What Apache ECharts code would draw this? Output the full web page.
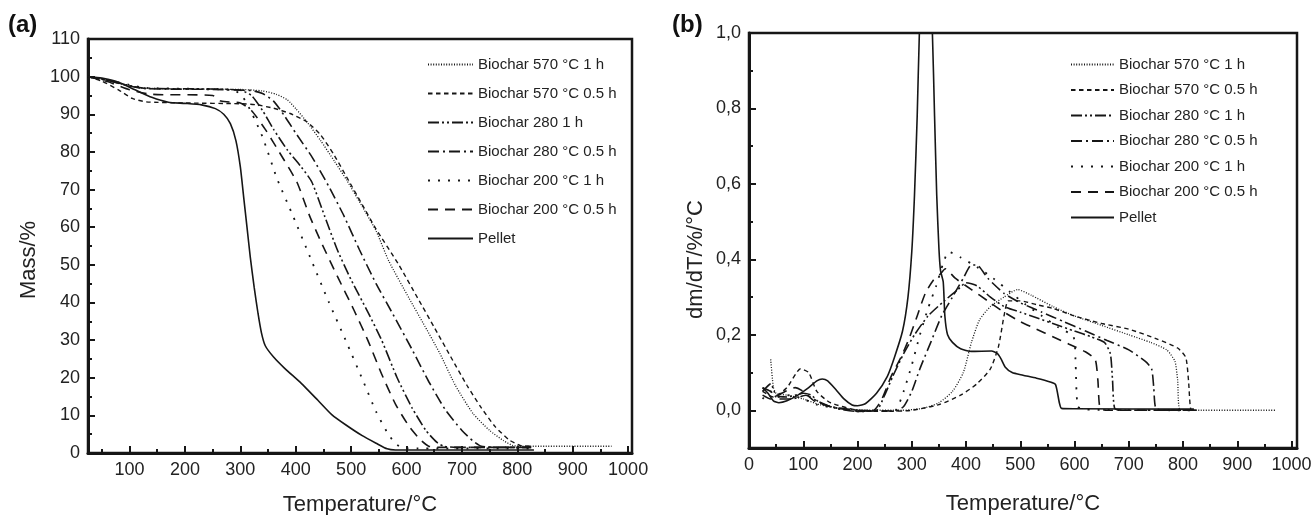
<!DOCTYPE html>
<html>
<head>
<meta charset="utf-8">
<script src="https://cdn.jsdelivr.net/npm/echarts@6/dist/echarts.min.js"></script>
<style>html,body{margin:0;padding:0;background:#fff;}#c{width:1311px;height:515px;}</style>
</head>
<body>
<div id="c"></div>
<script>
// ---------- tick labels ----------
const xTicksA = [100,200,300,400,500,600,700,800,900,1000];
const xMinorA = [50,150,250,350,450,550,650,750,850,950];
const xTicksB = [0,100,200,300,400,500,600,700,800,900,1000];
const xMinorB = [50,150,250,350,450,550,650,750,850,950];
const yTicksB = [0,0.2,0.4,0.6,0.8,1.0];
const yMinorB = [0.1,0.3,0.5,0.7,0.9];

// ---------- legend names ----------
const namesA = ['Biochar 570 °C 1 h','Biochar 570 °C 0.5 h','Biochar 280 1 h','Biochar 280 °C 0.5 h','Biochar 200 °C 1 h','Biochar 200 °C 0.5 h','Pellet'];
const namesB = ['Biochar 570 °C 1 h','Biochar 570 °C 0.5 h','Biochar 280 °C 1 h','Biochar 280 °C 0.5 h','Biochar 200 °C 1 h','Biochar 200 °C 0.5 h','Pellet'];

// ---------- (a) TGA: [temperature, mass %] ----------
const tga570_1h = [[25,100],[60,99],[90,98],[120,97],[200,96.7],[300,96.6],[340,96.2],[365,95.3],[385,93.8],[400,91.5],[420,88],[445,83],[470,77.5],[492,72.5],[520,65.5],[545,59],[568,51],[605,41],[630,34.5],[660,26.5],[688,18],[720,10.5],[750,6],[775,3.3],[792,2],[810,1.8],[970,1.8]];
const tga570_05h = [[25,100],[50,98.8],[80,96.5],[105,94.2],[130,93.3],[200,93],[300,92.8],[330,92.5],[360,91.6],[390,90.2],[420,88],[445,84.5],[470,79],[495,72.5],[520,66],[545,59.5],[586,50],[620,41.2],[650,33.4],[680,25.5],[709,18],[735,12],[760,7],[785,3.5],[805,2],[825,1.8]];
const tga280_1h = [[25,100],[60,99],[100,97.6],[130,96.9],[250,96.7],[300,96.4],[320,95],[340,91],[360,86],[385,80.5],[410,76],[429,72],[452,63],[475,54],[500,46],[530,37.5],[555,30],[583,20],[610,12],[635,6],[655,2.8],[667,1.8],[690,1.5],[825,1.5]];
const tga280_05h = [[25,100],[60,99],[100,97.5],[130,96.8],[250,96.6],[320,96.3],[340,95.5],[360,93.5],[380,89.5],[400,85],[430,78.5],[459,71],[487,63],[515,54],[545,45],[575,37],[610,27.5],[640,19],[670,11.5],[700,6],[720,3.2],[735,1.8],[760,1.5],[825,1.5]];
const tga200_1h = [[25,100],[60,99.2],[100,97.8],[130,97],[250,96.7],[290,96.3],[305,94.5],[320,90.5],[340,84],[366,73],[395,63],[426,52],[460,40],[490,30],[522,19],[545,11],[565,5.5],[580,2.5],[595,1.3],[620,1.2],[825,1.2]];
const tga200_05h = [[25,100],[60,98.7],[100,96.5],[140,95.3],[250,95],[265,93.5],[300,93],[320,91],[345,86],[370,80],[402,72],[425,63],[446,56],[475,47],[505,38],[530,30],[555,21],[580,13],[605,7],[625,3.5],[640,1.8],[660,1.5],[825,1.5]];
const tgaPellet = [[25,100],[50,99.6],[80,98.5],[110,96.5],[140,94.5],[170,93.2],[200,92.9],[230,92.5],[255,91.5],[270,90],[282,87.5],[292,83],[300,76],[306,68],[312,60],[318,52],[325,44],[332,37],[338,32],[345,28.5],[360,25.5],[380,22.5],[410,18.5],[440,14],[465,10.2],[490,7.5],[520,4.6],[545,2.6],[565,1.1],[580,0.8],[830,0.8]];

// ---------- (b) DTG: [temperature, dm/dT] ----------
const dtg570_1h = [[40,0.135],[45,0.06],[50,0.045],[70,0.04],[100,0.03],[130,0.015],[170,0.005],[220,0.0],[280,0.0],[320,0.005],[350,0.02],[375,0.05],[395,0.1],[410,0.18],[425,0.24],[445,0.275],[470,0.3],[495,0.32],[520,0.305],[560,0.275],[600,0.25],[650,0.225],[700,0.2],[740,0.18],[770,0.16],[785,0.13],[790,0.08],[795,0.0],[970,0.0]];
const dtg570_05h = [[25,0.05],[45,0.035],[70,0.06],[95,0.11],[110,0.1],[125,0.05],[150,0.02],[200,0.0],[250,-0.003],[300,0.0],[350,0.015],[390,0.04],[420,0.07],[445,0.11],[460,0.17],[470,0.25],[478,0.29],[500,0.29],[530,0.28],[560,0.27],[600,0.25],[650,0.23],[700,0.215],[750,0.19],[790,0.165],[805,0.14],[810,0.08],[815,0.0],[825,0.0]];
const dtg280_1h = [[25,0.05],[40,0.07],[50,0.04],[70,0.035],[100,0.045],[115,0.04],[130,0.02],[160,0.005],[200,-0.003],[235,0.0],[250,0.04],[265,0.09],[285,0.15],[305,0.2],[330,0.25],[360,0.29],[385,0.32],[400,0.338],[420,0.33],[445,0.3],[470,0.275],[500,0.26],[530,0.245],[560,0.23],[600,0.21],[630,0.195],[655,0.18],[666,0.15],[670,0.08],[674,0.005],[690,0.0],[825,0.0]];
const dtg280_05h = [[25,0.06],[40,0.05],[55,0.03],[80,0.03],[105,0.04],[125,0.025],[150,0.01],[200,0.0],[270,-0.002],[285,0.01],[300,0.05],[315,0.11],[335,0.18],[355,0.25],[375,0.3],[395,0.35],[410,0.385],[420,0.385],[440,0.35],[470,0.31],[500,0.285],[540,0.26],[580,0.235],[620,0.21],[660,0.185],[700,0.16],[730,0.13],[742,0.11],[746,0.06],[750,0.005],[770,0.0],[825,0.0]];
const dtg200_1h = [[25,0.03],[40,0.05],[55,0.035],[75,0.04],[100,0.03],[125,0.015],[150,0.008],[200,0.0],[250,-0.002],[270,0.0],[285,0.05],[300,0.12],[315,0.2],[330,0.27],[345,0.33],[358,0.39],[368,0.42],[390,0.405],[420,0.38],[450,0.35],[480,0.315],[510,0.28],[540,0.25],[570,0.22],[598,0.195],[602,0.12],[606,0.01],[620,0.002],[825,0.0]];
const dtg200_05h = [[25,0.04],[40,0.03],[60,0.045],[85,0.06],[100,0.05],[120,0.025],[150,0.01],[200,-0.003],[230,0.0],[245,0.03],[262,0.09],[280,0.14],[295,0.19],[310,0.25],[325,0.31],[340,0.345],[352,0.36],[362,0.375],[380,0.35],[410,0.32],[440,0.29],[470,0.26],[500,0.235],[530,0.215],[560,0.195],[590,0.175],[620,0.155],[638,0.135],[643,0.08],[647,0.005],[660,0.0],[825,0.0]];
const dtgPellet = [[25,0.06],[35,0.045],[45,0.025],[55,0.02],[70,0.025],[90,0.04],[110,0.06],[125,0.078],[135,0.083],[145,0.078],[160,0.055],[175,0.03],[190,0.014],[200,0.012],[215,0.018],[235,0.045],[255,0.09],[268,0.14],[283,0.21],[293,0.3],[300,0.42],[305,0.57],[310,0.78],[314,1.0],[320,1.2],[326,1.26],[332,1.18],[338,1.0],[342,0.78],[346,0.57],[350,0.43],[353,0.37],[358,0.34],[361,0.25],[366,0.2],[375,0.18],[390,0.163],[410,0.156],[447,0.157],[458,0.15],[465,0.135],[472,0.115],[485,0.1],[505,0.093],[530,0.085],[555,0.075],[565,0.068],[572,0.02],[576,0.005],[600,0.004],[820,0.003]];

const FONT = 'Liberation Sans, Arial, Helvetica, sans-serif';
const INK = '#161616';

// line styles per curve (same order as names)
const styles = [
  {type:[1,1.6], width:1.3},
  {type:[4.5,3.5], width:1.4},
  {type:[11,3,2,3,2,3], width:1.6},
  {type:[11,4,2,4], width:1.6},
  {type:[2,8], width:1.8},
  {type:[10,7], width:1.6},
  {type:'solid', width:1.6}
];
const tgaData = [tga570_1h,tga570_05h,tga280_1h,tga280_05h,tga200_1h,tga200_05h,tgaPellet];
const dtgData = [dtg570_1h,dtg570_05h,dtg280_1h,dtg280_05h,dtg200_1h,dtg200_05h,dtgPellet];

function mkSeries(name, data, st, xi, yi){
  return {type:'line', name, data, xAxisIndex:xi, yAxisIndex:yi, symbol:'none', showSymbol:false,
    smooth:0.2, silent:true, clip:true,
    lineStyle:{color:INK, width:st.width, type:st.type, cap:'butt'}, itemStyle:{color:INK}};
}
const series = [];
namesA.forEach((n,i)=>series.push(mkSeries(n, tgaData[i], styles[i], 0, 0)));
namesB.forEach((n,i)=>series.push(mkSeries(n, dtgData[i], styles[i], 1, 1)));

const labelStyle = {fontFamily:FONT, fontSize:18, color:'#222'};
const nameStyle = {fontFamily:FONT, fontSize:22, color:'#222'};
const axisLine = {show:true, onZero:false, lineStyle:{color:INK, width:3}};
const tickLine = {color:INK, width:2};

function majorX(grid, min, max, ticks, gap){
  return {type:'value', gridIndex:grid, min, max, position:'bottom',
    axisLine, splitLine:{show:false},
    axisTick:{show:true, inside:true, length:7, customValues:ticks, lineStyle:tickLine},
    axisLabel:{...labelStyle, margin:8, customValues:ticks, formatter:v=>String(v)},
    name:'Temperature/°C', nameLocation:'middle', nameGap:gap, nameTextStyle:nameStyle};
}
function minorX(grid, min, max, ticks){
  return {type:'value', gridIndex:grid, min, max, position:'bottom',
    axisLine:{show:false, onZero:false}, splitLine:{show:false}, axisLabel:{show:false},
    axisTick:{show:true, inside:true, length:4, customValues:ticks, lineStyle:tickLine}};
}
const legendText = {fontFamily:FONT, fontSize:15, color:'#222'};
const hiddenSymbol = {opacity:0, borderWidth:0};
const rectA = {left:88, top:39, width:544, height:414};
const rectB = {left:749, top:33, width:548, height:415};

const option = {
  animation:false,
  backgroundColor:'#fff',
  textStyle:{fontFamily:FONT},
  title:[
    {text:'(a)', left:8, top:13, padding:0, textStyle:{fontFamily:FONT, fontSize:24, fontWeight:'bold', color:'#111'}},
    {text:'(b)', left:672, top:13, padding:0, textStyle:{fontFamily:FONT, fontSize:24, fontWeight:'bold', color:'#111'}}
  ],
  grid:[
    {...rectA, outerBoundsMode:'none', containLabel:false, show:true, borderColor:INK, borderWidth:2.5, backgroundColor:'transparent'},
    {...rectB, outerBoundsMode:'none', containLabel:false, show:true, borderColor:INK, borderWidth:2.5, backgroundColor:'transparent'},
    {...rectA, outerBoundsMode:'none', containLabel:false, show:false},
    {...rectB, outerBoundsMode:'none', containLabel:false, show:false}
  ],
  legend:[
    {data:namesA, orient:'vertical', left:427, top:57, padding:0, itemWidth:45, itemHeight:14, itemGap:14,
      textStyle:legendText, itemStyle:hiddenSymbol, selectedMode:false},
    {data:namesB, orient:'vertical', left:1070, top:57, padding:0, itemWidth:43, itemHeight:14, itemGap:10.5,
      textStyle:legendText, itemStyle:hiddenSymbol, selectedMode:false}
  ],
  xAxis:[
    majorX(0, 25, 1007, xTicksA, 41),
    majorX(1, 0, 1010, xTicksB, 45),
    minorX(2, 25, 1007, xMinorA),
    minorX(3, 0, 1010, xMinorB)
  ],
  yAxis:[
    {type:'value', gridIndex:0, position:'left', min:0, max:110, interval:10, axisLine, splitLine:{show:false},
      axisTick:{show:true, inside:true, length:7, lineStyle:tickLine},
      minorTick:{show:true, splitNumber:2, length:4, lineStyle:tickLine},
      axisLabel:{...labelStyle, margin:8},
      name:'Mass/%', nameLocation:'middle', nameGap:48, nameRotate:90,
      nameTextStyle:{...nameStyle, padding:[0,28,0,0]}},
    {type:'value', gridIndex:1, position:'left', min:-0.1, max:1.0, axisLine, splitLine:{show:false},
      axisTick:{show:true, inside:true, length:7, customValues:yTicksB, lineStyle:tickLine},
      axisLabel:{...labelStyle, margin:8, customValues:yTicksB, formatter:v=>v.toFixed(1).replace('.',',')},
      name:'dm/dT/%/°C', nameLocation:'middle', nameGap:42, nameRotate:90,
      nameTextStyle:{...nameStyle, padding:[0,38,0,0]}},
    {type:'value', gridIndex:2, position:'left', min:0, max:110, show:false},
    {type:'value', gridIndex:3, position:'left', min:-0.1, max:1.0, axisLine:{show:false, onZero:false}, splitLine:{show:false}, axisLabel:{show:false},
      axisTick:{show:true, inside:true, length:4, customValues:yMinorB, lineStyle:tickLine}}
  ],
  series
};
const chart = echarts.init(document.getElementById('c'), null, {renderer:'canvas'});
chart.setOption(option);
</script>
</body>
</html>
